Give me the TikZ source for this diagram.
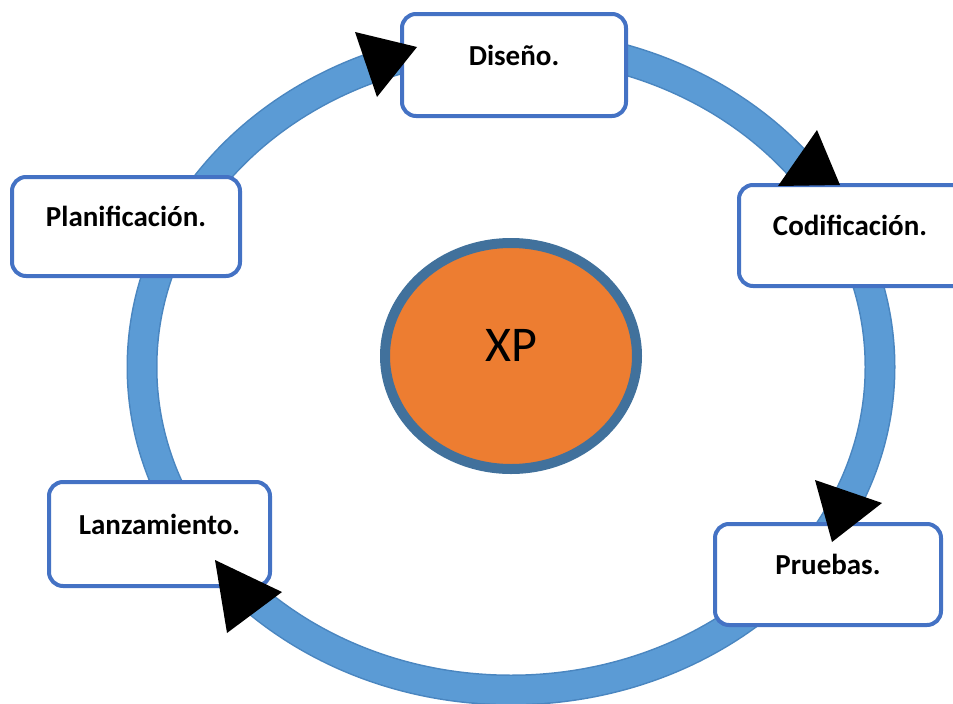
\documentclass[tikz,border=0pt]{standalone}
\usepackage{fontspec}
\setmainfont{Carlito}
\usepackage{tikz}
\usepackage{xcolor}
\usetikzlibrary{shapes,positioning}

\definecolor{anillo}{HTML}{5B9BD5}
\definecolor{anilloborde}{HTML}{4A86C0}
\definecolor{cajaborde}{HTML}{4472C4}
\definecolor{naranja}{HTML}{ED7D31}
\definecolor{nucleoborde}{HTML}{41719C}

\begin{document}
\begin{tikzpicture}[
      x=1pt, y=-1pt,
      fase/.style={rectangle, draw=cajaborde, line width=4pt, fill=white, rounded corners=14pt, inner sep=0pt, text height=20pt, text depth=20pt, font=\fontsize{29}{32}\selectfont\bfseries},
      fasetexto/.style={inner sep=0pt, text height=20pt, text depth=20pt, font=\fontsize{29}{32}\selectfont\bfseries},
      nucleo/.style={ellipse, draw=nucleoborde, line width=10pt, fill=naranja, inner sep=0pt, text height=33pt, text depth=22pt, font=\fontsize{50}{55}\selectfont},
      punta/.style={fill=black}
    ]
      \clip (0,0) rectangle (953,704);

      % Ring
      \draw[line width=31pt, anilloborde] (511,367) ellipse [x radius=369pt, y radius=323pt];
      \draw[line width=28pt, anillo] (511,367) ellipse [x radius=369pt, y radius=323pt];

      % Center
      \node[nucleo, minimum width=252pt, minimum height=226pt] (xp) at (511,356) {XP};

      % Phases
      \node[fase, minimum width=224pt, minimum height=102pt] (diseno) at (514,65) {Diseño.};
      \node[fase, minimum width=240pt, minimum height=101pt] (codif) at (859,235.5) {};
      \node[fasetexto] (codiftxt) at (850,235.5) {Codificación.};
      \node[fase, minimum width=226pt, minimum height=101pt] (pruebas) at (828,574.5) {Pruebas.};
      \node[fase, minimum width=221pt, minimum height=104pt] (lanza) at (159.5,534) {Lanzamiento.};
      \node[fase, minimum width=228pt, minimum height=99pt] (planif) at (126,226.5) {Planificación.};

      % Arrow tips
      \fill[punta] (355,32) -- (417,47) -- (377,97) -- cycle;
      \fill[punta] (817,130) -- (778,186) -- (840,185) -- cycle;
      \fill[punta] (815,480) -- (882,503) -- (832,542) -- cycle;
      \fill[punta] (215,560) -- (282,592) -- (227,633) -- cycle;

    \end{tikzpicture}
\end{document}
